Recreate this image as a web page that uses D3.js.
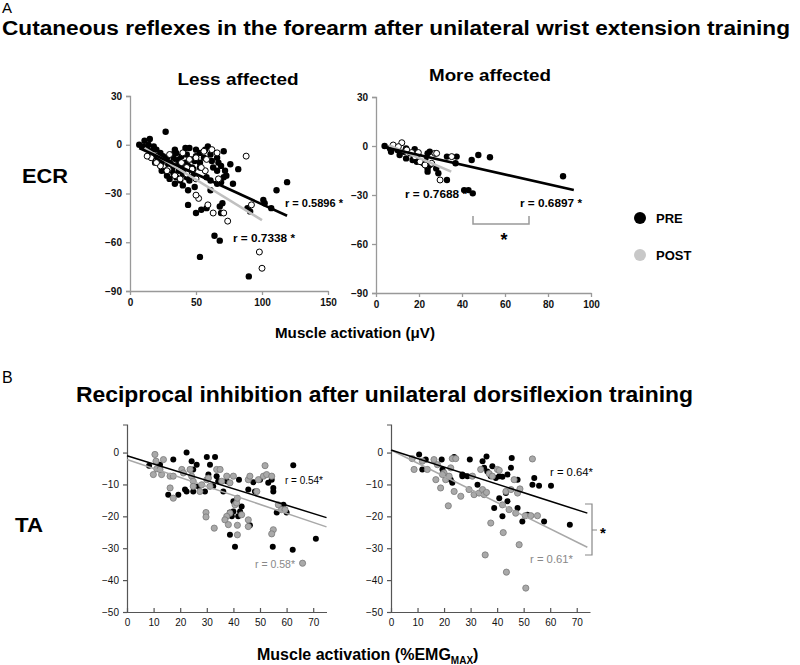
<!DOCTYPE html>
<html>
<head>
<meta charset="utf-8">
<script src="https://cdn.jsdelivr.net/npm/d3@7"></script>
<style>
  body { margin: 0; background: #fff; }
  svg { display: block; }
  .lbl { font-family: "Liberation Sans Narrow", "Liberation Sans", Arial, sans-serif; }
  .tick text { font-family: "Liberation Sans", Arial, sans-serif; }
</style>
</head>
<body>
<div id="chart"></div>
<script>
// ---- data ----

// A: ECR, less affected arm (x: µV, y: reflex %)
const ecrLessPre = [
  [7,0],[11,2.5],[15,3.5],[13,-2],[18,-1],[20,-3],[23,-5],[27,8],[25,-7],[24,-11],[27,-9],[30,-11],
  [33,-8],[34,-3],[35,-5],[37,-9],[38,-12],[39,-14],[40,-18],[42,-17],[43,-20],[45,-22],[48,-19],[44,-13],
  [47,-9],[49,-10],[50,-7],[53,-11],[56,-8],[57,-3],[59,-1],[61,-6],[62,-10],[63,-14],[66,-8],[67,-11],
  [69,-13],[71,-4],[72,-16],[73,-19],[69,-23],[66,-24],[61,-28],[58,-39],[54,-40],[50,-42],[44,-37],
  [64,-56],[68,-59],[53,-69],[90,-81],[27,-16],[28,-19],[32,-16],[35,-20],[38,-22],[40,-25],[34,-24],
  [30,-21],[45,-2],[42,-2],[50,-3],[53,-5],[82,-15],[76,-12],[71,-20],[68,-38],[69,-42],[91,-41],
  [102,-36],[66,-16],[58,-20],[61,-22],[49,-26],[48,-15],[43,-6],[39,-7],[33,-13],[29,-12],[23,-10],
  [20,-7],[16,-4],[19,-11],[37,-16],[44,-28],[119,-23],[111,-28],[101,-34],[107,-39],[89,-39],[78,-24],
  [70,-36],[10,-1],[14,0],[21,-8],[28,-8],[32,-6],[35,-10],[42,-11],[47,-14],[53,-14],[33,-18],[24,-16]
];
const ecrLessPost = [
  [30,-6],[40,-5],[45,-9],[50,-8],[56,-4],[58,-9],[62,-3],[66,-5],[88,-7],[47,-15],[43,-18],[38,-21],
  [34,-19],[29,-15],[23,-13],[20,-11],[16,-8],[13,-7],[50,-21],[52,-33],[50,-31],[59,-37],[63,-42],
  [71,-42],[74,-47],[67,-21],[98,-66],[100,-76],[92,-37],[28,-16],[39,-11],[43,-14],[57,-16],[54,-14],
  [33,-12]
];

// A: ECR, more affected arm
const ecrMorePre = [
  [4,0],[6.5,-1.5],[10,-2.5],[13,-3.5],[14,-1.5],[16,-4.5],[18,-2],[20,-6.5],[23,-7.6],[24,-4.5],
  [25,-11.6],[24,-13.7],[22,-10.6],[24,-15.7],[28,-13.7],[29,-16.7],[33,-20.8],[25,-3.5],[33,-6.5],
  [37.5,-6.5],[37,-10.6],[44.5,-8.6],[47.6,-5.5],[53,-6.9],[14,-7.6],[17,-8.6],[19,-9.6],[11,-5.5],
  [7,-3.5],[41,-27],[43,-27],[45,-29],[87,-18.5]
];
const ecrMorePost = [
  [12,2],[8,0.6],[10.4,-0.4],[14.3,-2.4],[16.6,-4],[19.7,-4],[21.2,-7.6],[20.5,-9.6],[22.8,-11.6],
  [27.4,-4.5],[28.2,-4.5],[29.8,-20.8],[35.2,-6.5],[25.9,-10.6],[18.1,-6.5]
];

// B: TA, less affected leg (x: %EMGmax, y: inhibition %)
const taLessPre = [
  [8.3,-4.1],[12.4,-3.8],[17.4,-2.2],[19.3,-13.2],[15.5,-13.2],[22.4,0],[24.3,-2.7],[24.9,-5.3],
  [26.2,-3.8],[22.4,-12.2],[24.9,-12.2],[26.8,-10.6],[29.3,-12.2],[30,-1.4],[31.2,-3.8],[30.6,-6.9],
  [33.1,-1.4],[33.7,-7.4],[34.3,-9],[36.2,-12.2],[37.5,-9],[38.7,-18.8],[39.4,-20],[38.7,-25.8],
  [40,-18.5],[40.6,-29.5],[41.8,-20],[42.5,-18.5],[43.1,-16.9],[46.2,-22.8],[48.1,-12.2],[47.5,-9.3],
  [50,-8.5],[53.1,-9.5],[54.4,-8.5],[55,-11.1],[55,-12.2],[58.8,-16.4],[56.3,-18.8],[60,-18.8],
  [54.8,-29.5],[62.3,-30.5],[62.5,-4],[71,-27],[42.1,-8.5],[45.6,-11.6],[40,-15.3],[32.4,-10.6],[21.8,-11.6]
];
const taLessPost = [
  [10.5,-0.6],[10.9,-2.7],[11.2,-5.1],[9.9,-6.9],[13.7,-2.2],[13,-6.9],[12.4,-5.3],[16.2,-7.4],
  [17.4,-7.4],[16.2,-11.1],[17.4,-14.3],[20.6,-5.3],[21.2,-6.4],[23.7,-5.3],[24.3,-7.4],[24.9,-9],
  [24.9,-10.6],[27.4,-12.2],[28.1,-10.1],[30,-8.5],[30.6,-8],[31.2,-10.6],[33.7,-5.3],[35,-5.3],
  [35.6,-9],[37.5,-7.4],[38.7,-9.5],[40,-7.4],[40.6,-16.4],[41.2,-15.8],[41.5,-14.3],[38.7,-19],
  [37.5,-20],[36.8,-21.1],[38.1,-22.6],[29.7,-18.8],[29.7,-20.2],[32.8,-23.7],[41.5,-25.8],[41.5,-22.8],
  [43.1,-19.5],[45.6,-21.1],[45.6,-23.2],[45.6,-8.5],[46.2,-7.4],[49.4,-8.5],[48.8,-12.2],[51.3,-7.4],
  [51.9,-4.1],[52.5,-6.9],[54.4,-7.4],[55,-24.2],[54.4,-25.5],[56.9,-16.4],[58.1,-17.9],[59.4,-17.9],[66,-34.7]
];

// B: TA, more affected leg
const taMorePre = [
  [10.6,-0.6],[11.8,-5.3],[13.1,-2.2],[19.1,-2.2],[19.4,-5.3],[22.5,-8.5],[23.1,-9.5],[23.8,-1.4],
  [26.9,-7.4],[28.8,-7.4],[29.7,-2.2],[34.5,-2.7],[35.1,-4.8],[36,-1.2],[37.6,-7.4],[38.2,-4.3],
  [39.5,-8],[40.8,-7.4],[42,-7.6],[43.9,-6.9],[45.5,-1.7],[45.2,-4.8],[47.7,-8.5],[40.8,-14.3],
  [43.3,-12.7],[43.9,-15.3],[38.9,-17.4],[42,-20],[47.7,-17.4],[49.5,-21.6],[51.4,-19.5],[53.3,-10.1],
  [54,-8],[55.8,-10.4],[60.3,-10.4],[57.7,-21.6],[67.4,-22.6],[26.9,-6.9],[32.6,-10.1],[36.3,-5.9]
];
const taMorePost = [
  [8,-1.9],[8.7,-5.3],[11.8,-2.7],[13.7,-5.3],[16.9,-8.5],[17.5,-3.8],[18.7,-11.1],[20,-6.4],
  [20.6,-8.5],[21.6,-16.7],[22.5,-4.8],[23.1,-1.9],[23.8,-12.2],[24.4,-1.9],[26.3,-13.7],[29.4,-11.6],
  [30.7,-7.4],[31.3,-13.2],[33.2,-12.7],[33.8,-5.3],[34.5,-11.6],[35.1,-13.2],[36,-12.5],[37,-6.6],
  [37.6,-22.1],[38.2,-7.4],[40.1,-5.3],[40.8,-5.6],[42,-16.4],[42.3,-25.1],[43.3,-12.2],[44.5,-17.9],
  [45.2,-11.6],[46.4,-8.5],[47,-19],[47.7,-12.7],[48.3,-28.9],[48.6,-11.4],[50.6,-19.8],[52.7,-19.8],
  [53.3,-2],[55.2,-19.8],[35.5,-32.1],[43.5,-37.5],[50.8,-42.5],[19.4,-6.9],[21.9,-7.4],[16.2,-2.2]
];

// regression lines (end points)
const ecrLessFitPre  = [[7, -2], [119, -43.7]];
const ecrLessFitPost = [[11, -2], [100, -46.4]];
const ecrMoreFitPre  = [[3, -0.4], [92, -27]];
const ecrMoreFitPost = [[6, 0.5], [35, -15.7]];
const taLessFitPre   = [[0, -1], [75, -20.4]];
const taLessFitPost  = [[0, -2.2], [75, -23.3]];
const taMoreFitPre   = [[0, 0.8], [74, -19]];
const taMoreFitPost  = [[0, 0.8], [74, -29.7]];

// ticks
const ecrTicksY = [30, 0, -30, -60, -90];
const lessTicksX = [0, 50, 100, 150];
const moreTicksX = [0, 20, 40, 60, 80, 100];
const taTicksY = [0, -10, -20, -30, -40, -50];
const taTicksX = [0, 10, 20, 30, 40, 50, 60, 70];

const W = 800, H = 665;
const svg = d3.select('#chart').append('svg').attr('width', W).attr('height', H);

function text(x, y, str, o = {}) {
  const t = svg.append('text')
    .attr('class', 'lbl')
    .attr('x', x).attr('y', y)
    .attr('font-size', o.size || 12)
    .attr('font-weight', o.weight || 'bold')
    .attr('fill', o.fill || '#000')
    .attr('text-anchor', o.anchor || 'start')
    .text(str);
  if (o.len) t.attr('textLength', o.len).attr('lengthAdjust', 'spacingAndGlyphs');
  return t;
}

// Draw one scatter panel: axes, points, fit lines.
function panel(cfg) {
  const x = d3.scaleLinear().domain(cfg.xDomain).range(cfg.xRange);
  const y = d3.scaleLinear().domain(cfg.yDomain).range(cfg.yRange);
  const g = svg.append('g');

  const ax = g.append('g')
    .attr('transform', `translate(0,${cfg.yRange[0]})`)
    .call(d3.axisBottom(x).tickValues(cfg.xTicks).tickSizeOuter(0)
      .tickSizeInner(cfg.xTickSize).tickPadding(cfg.xPad));
  const ay = g.append('g')
    .attr('transform', `translate(${cfg.xRange[0]},0)`)
    .call(d3.axisLeft(y).tickValues(cfg.yTicks).tickSizeOuter(0).tickSize(4).tickPadding(4));

  [ax, ay].forEach(a => {
    a.selectAll('path, line').attr('stroke', cfg.axisColor).attr('stroke-width', cfg.axisWidth);
    a.selectAll('text')
      .attr('font-size', cfg.tickFont)
      .attr('font-weight', cfg.tickWeight)
      .attr('font-family', cfg.tickFamily)
      .attr('fill', '#111');
  });

  const dot = (data, style) => g.append('g').selectAll('circle')
    .data(data).enter().append('circle')
    .attr('cx', d => x(d[0])).attr('cy', d => y(d[1]))
    .attr('r', style.r)
    .attr('fill', style.fill)
    .attr('stroke', style.stroke || 'none')
    .attr('stroke-width', style.sw || 0);

  dot(cfg.pre, cfg.preStyle);
  dot(cfg.post, cfg.postStyle);

  const line = d3.line().x(d => x(d[0])).y(d => y(d[1]));
  g.append('path').attr('d', line(cfg.fitPost)).attr('fill', 'none')
    .attr('stroke', cfg.postLine).attr('stroke-width', cfg.lineWidth);
  g.append('path').attr('d', line(cfg.fitPre)).attr('fill', 'none')
    .attr('stroke', '#000').attr('stroke-width', cfg.lineWidth);
}

const topStyle = {
  yDomain: [-90, 30], yTicks: ecrTicksY, xTickSize: 4, xPad: 4,
  axisColor: '#999', axisWidth: 1.3, tickFont: 10, tickWeight: 'bold',
  tickFamily: '"Liberation Sans", Arial, sans-serif',
  preStyle: { r: 3.2, fill: '#000' },
  postStyle: { r: 3, fill: '#fff', stroke: '#000', sw: 1 },
  postLine: '#c0c0c0', lineWidth: 2.6,
};
const botStyle = {
  yDomain: [-50, 8.8], yTicks: taTicksY, xTicks: taTicksX, xTickSize: -4, xPad: 7,
  axisColor: '#555', axisWidth: 1.2, tickFont: 10, tickWeight: 'normal',
  tickFamily: '"Liberation Sans Narrow", "Liberation Sans", Arial, sans-serif',
  preStyle: { r: 3, fill: '#000' },
  postStyle: { r: 3.1, fill: '#a9a9a9', stroke: '#7a7a7a', sw: 0.8 },
  postLine: '#a8a8a8', lineWidth: 1.5,
};

panel({ ...topStyle, xDomain: [0, 150], xRange: [130, 328], yRange: [291, 96],
  xTicks: lessTicksX, pre: ecrLessPre, post: ecrLessPost,
  fitPre: ecrLessFitPre, fitPost: ecrLessFitPost });
panel({ ...topStyle, xDomain: [0, 100], xRange: [376, 591], yRange: [293, 97],
  xTicks: moreTicksX, pre: ecrMorePre, post: ecrMorePost,
  fitPre: ecrMoreFitPre, fitPost: ecrMoreFitPost });
panel({ ...botStyle, xDomain: [0, 75], xRange: [127, 326.5], yRange: [612, 424.5],
  pre: taLessPre, post: taLessPost, fitPre: taLessFitPre, fitPost: taLessFitPost });
panel({ ...botStyle, xDomain: [0, 75], xRange: [391, 590], yRange: [612, 424.5],
  pre: taMorePre, post: taMorePost, fitPre: taMoreFitPre, fitPost: taMoreFitPost });

// ---- titles & labels ----
text(2, 13, 'A', { size: 15, weight: 'normal' });
text(2, 35, 'Cutaneous reflexes in the forearm after unilateral wrist extension training', { size: 20, len: 788 });
text(238, 85, 'Less affected', { size: 16, anchor: 'middle', len: 121 });
text(490, 81, 'More affected', { size: 16, anchor: 'middle', len: 122 });
text(22, 183, 'ECR', { size: 21, len: 46 });
text(355, 338, 'Muscle activation (\u03bcV)', { size: 15, anchor: 'middle', len: 160 });

text(2, 383, 'B', { size: 16, weight: 'normal' });
text(76, 402, 'Reciprocal inhibition after unilateral dorsiflexion training', { size: 22, len: 617 });
text(15, 532, 'TA', { size: 21, len: 28 });

const xl = text(257, 660, 'Muscle activation (%EMG', { size: 16 });
xl.append('tspan').attr('font-size', 10).attr('dy', 4).text('MAX');
xl.append('tspan').attr('dy', -4).text(')');

// r values
const rFont = { size: 11, weight: 'bold' };
text(285, 207, 'r = 0.5896 *', { ...rFont, len: 58 });
text(233, 242, 'r = 0.7338 *', { ...rFont, len: 62 });
text(405, 198, 'r = 0.7688 *', { ...rFont, len: 62 });
text(520, 207, 'r = 0.6897 *', { ...rFont, len: 62 });

const rFontB = { size: 10.5, weight: 'normal' };
text(285, 484, 'r = 0.54*', { ...rFontB, len: 38 });
text(255, 568, 'r = 0.58*', { ...rFontB, len: 40, fill: '#888' });
text(550, 476, 'r = 0.64*', { ...rFontB, len: 43 });
text(530, 563, 'r = 0.61*', { ...rFontB, len: 43, fill: '#888' });

// significance brackets
svg.append('path').attr('d', 'M473,216V224H529V216')
  .attr('fill', 'none').attr('stroke', '#999').attr('stroke-width', 1.5);
text(504, 246, '*', { size: 18, anchor: 'middle' });
svg.append('path').attr('d', 'M585,504H592V555H585M592,530H597')
  .attr('fill', 'none').attr('stroke', '#888').attr('stroke-width', 1.2);
text(603, 538, '*', { size: 15, anchor: 'middle' });

// legend
const legend = [
  { label: 'PRE', fill: '#000', y: 218 },
  { label: 'POST', fill: '#c8c8c8', y: 255 },
];
const lg = svg.append('g');
lg.selectAll('circle').data(legend).enter().append('circle')
  .attr('cx', 640).attr('cy', d => d.y).attr('r', 6).attr('fill', d => d.fill);
lg.selectAll('text').data(legend).enter().append('text')
  .attr('class', 'lbl')
  .attr('x', 656).attr('y', d => d.y + 5)
  .attr('font-size', 13).attr('font-weight', 'bold')
  .text(d => d.label);
</script>
</body>
</html>
